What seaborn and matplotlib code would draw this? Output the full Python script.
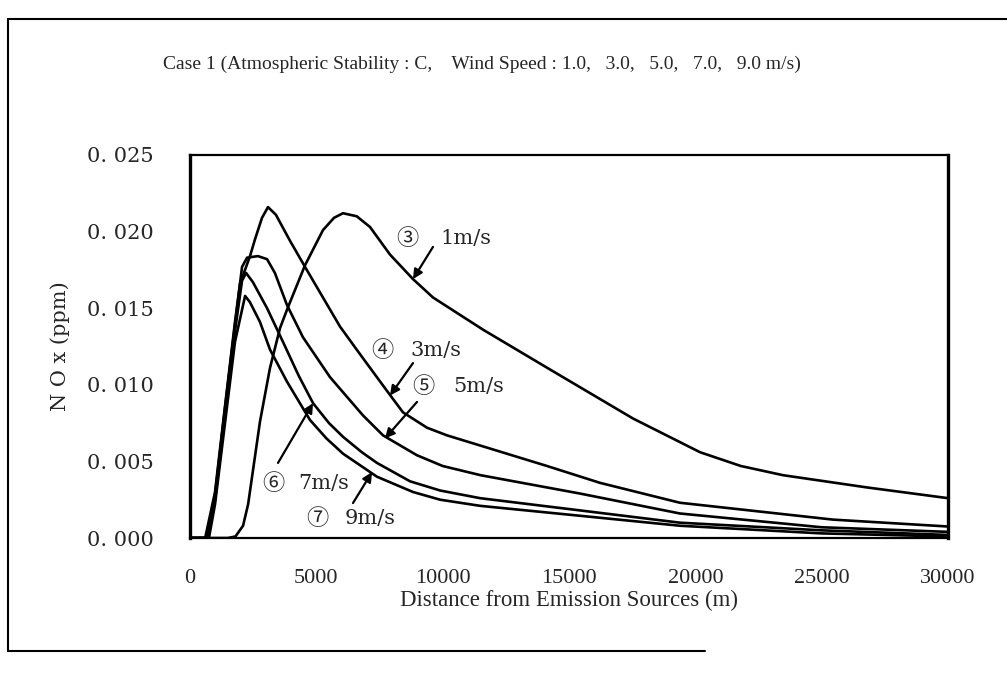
import matplotlib
matplotlib.use("Agg")
import matplotlib.pyplot as plt
import numpy as np
import pandas as pd
import seaborn as sns
from matplotlib.lines import Line2D

# distance (m) / NOx (ppm)
dist_1 = [0, 1500, 1800, 2100, 2300, 2770, 3166, 3562, 3839, 4551, 5264, 5700, 6055, 6600, 7124,
          7916, 8826, 9617, 11596, 14248, 17533, 20185, 21800, 23470, 26795, 30000]
nox_1 = [0, 0, 0.0001, 0.0008, 0.0022, 0.0076, 0.0111, 0.0137, 0.0149, 0.0178, 0.0201, 0.0209, 0.0212,
         0.0210, 0.0203, 0.0185, 0.0169, 0.0157, 0.0136, 0.0110, 0.0078, 0.0056, 0.0047, 0.0041,
         0.0033, 0.0026]

dist_3 = [0, 600, 990, 1385, 1780, 1980, 2375, 2573, 2850, 3087, 3400, 3958, 4551, 5937,
          6728, 7797, 8430, 9380, 10171, 14129, 16227, 19393, 25450, 30000]
nox_3 = [0, 0, 0.0030, 0.0086, 0.0141, 0.0166, 0.0184, 0.0195, 0.0209, 0.0216, 0.0211,
         0.0194, 0.0177, 0.0138, 0.0120, 0.0096, 0.0082, 0.0072, 0.0067, 0.0047, 0.0036, 0.0023,
         0.0012, 0.00075]

dist_5 = [0, 650, 990, 1380, 1780, 2060, 2260, 2690, 3050, 3360, 3840, 4472, 5541, 6847, 7639,
          8984, 10000, 11500, 15440, 19390, 25000, 30000]
nox_5 = [0, 0, 0.0028, 0.0084, 0.0139, 0.0177, 0.0183, 0.0184, 0.0182, 0.0173, 0.0152, 0.0131, 0.0105,
         0.0080, 0.0067, 0.0054, 0.0047, 0.0041, 0.0029, 0.0016, 0.0007, 0.0004]

dist_7 = [0, 700, 990, 1385, 1780, 2060, 2220, 2490, 3050, 3680, 4300, 4870, 5500, 6060, 6800,
          7400, 8710, 9900, 11480, 15440, 19390, 25000, 30000]
nox_7 = [0, 0, 0.0025, 0.0080, 0.0135, 0.0168, 0.0173, 0.0167, 0.0150, 0.0128, 0.0106, 0.0088, 0.0075,
         0.0066, 0.0056, 0.0049, 0.0037, 0.0031, 0.0026, 0.0018, 0.0010, 0.0005, 0.0002]

dist_9 = [0, 750, 990, 1385, 1780, 2180, 2370, 2770, 3166, 3840, 4750, 5400, 6060, 7400, 8830,
          9900, 11480, 15440, 19390, 25000, 30000]
nox_9 = [0, 0, 0.0022, 0.0075, 0.0128, 0.0158, 0.0154, 0.0141, 0.0123, 0.0102, 0.0077, 0.0065, 0.0055,
         0.0040, 0.0030, 0.0025, 0.0021, 0.00145, 0.0008, 0.0003, 0.0001]

x_ticks = [0, 5000, 10000, 15000, 20000, 25000, 30000]
y_ticks = [0.0, 0.005, 0.010, 0.015, 0.020, 0.025]
y_labels = ["0. 000", "0. 005", "0. 010", "0. 015", "0. 020", "0. 025"]

# (circled number, speed label, circle x, text x, y, arrow tip, arrow tail)
labels = [
    ("③", "1m/s", 8588, 9895, 0.01958, (8826, 0.0169), (9617, 0.0190)),
    ("④", "3m/s", 7599, 8707, 0.01227, (7916, 0.0093), (8826, 0.01142)),
    ("⑤", "5m/s", 9222, 10409, 0.00986, (7718, 0.0065), (8984, 0.00888)),
    ("⑥", "7m/s", 3285, 4274, 0.00359, (4868, 0.0088), (3483, 0.0049)),
    ("⑦", "9m/s", 5026, 6135, 0.0013, (7203, 0.0043), (6451, 0.00228)),
]

sns.set_style("white")
plt.rcParams["font.family"] = ["Liberation Serif", "DejaVu Serif", "DejaVu Sans"]

fig = plt.figure(figsize=(10.07, 6.75), dpi=100)
ax = fig.add_axes([190 / 1007, 1 - 538 / 675, 758 / 1007, 383 / 675])

curves = [(dist_1, nox_1), (dist_3, nox_3), (dist_5, nox_5), (dist_7, nox_7), (dist_9, nox_9)]
for d, v in curves:
    df = pd.DataFrame({"dist": d, "nox": v})
    sns.lineplot(data=df, x="dist", y="nox", ax=ax, color="black", linewidth=1.9,
                 sort=False, estimator=None, solid_joinstyle="round")

ax.set_xlim(0, 30000)
ax.set_ylim(0, 0.025)
ax.set_xticks(x_ticks)
ax.set_xticklabels([str(t) for t in x_ticks])
ax.set_yticks(y_ticks)
ax.set_yticklabels(y_labels, family=["DejaVu Serif"])
ax.tick_params(axis="y", direction="in", length=6, width=1.2, pad=26, labelsize=15)
ax.tick_params(axis="x", length=0, pad=22, labelsize=16)

for s in ax.spines.values():
    s.set_color("black")
    s.set_linewidth(1.6)
ax.spines["left"].set_linewidth(2.4)
ax.spines["right"].set_linewidth(2.4)

ax.set_xlabel("Distance from Emission Sources (m)", fontsize=16.5)
ax.xaxis.set_label_coords(0.5, -0.135)
ax.set_ylabel("N O x (ppm)", fontsize=15, family=["DejaVu Serif"])
ax.yaxis.set_label_coords(-0.158, 0.5)

# labels with arrows pointing at each curve
arrow = dict(arrowstyle="-|>", color="black", lw=1.6, mutation_scale=14, shrinkA=0, shrinkB=0)
for circ, speed, cx, tx, ty, tip, tail in labels:
    ax.text(cx, ty, circ, fontsize=16, family=["Noto Sans CJK JP", "DejaVu Sans"],
            ha="center", va="center")
    ax.text(tx, ty, speed, fontsize=15, family=["DejaVu Serif"], ha="left", va="center")
    ax.annotate("", xy=tip, xytext=tail, arrowprops=arrow)

fig.text(0.479, 0.904, "Case 1 (Atmospheric Stability : C,    Wind Speed : 1.0,   3.0,   5.0,   7.0,   9.0 m/s)",
         ha="center", va="center", fontsize=14)

# outer frame of the scanned panel
fig.add_artist(Line2D([0.008, 0.008], [0.035, 0.972], color="black", lw=1.5))
fig.add_artist(Line2D([0.008, 1.0], [0.972, 0.972], color="black", lw=1.5))
fig.add_artist(Line2D([0.008, 0.70], [0.035, 0.035], color="black", lw=1.5))

plt.savefig("out.png", dpi=100)
plt.close()
